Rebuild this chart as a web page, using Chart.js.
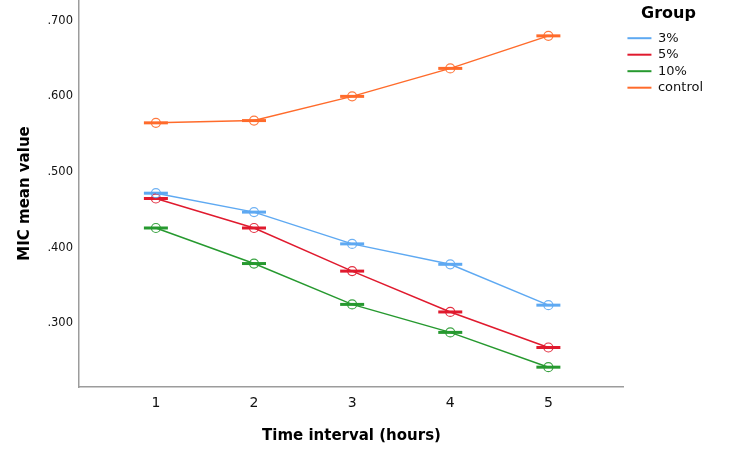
<!DOCTYPE html>
<html>
<head>
<meta charset="utf-8">
<script src="https://cdn.jsdelivr.net/npm/chart.js@4/dist/chart.umd.min.js"></script>
<style>
  html, body { margin: 0; padding: 0; background: #fff; }
  #wrap { width: 750px; height: 452px; position: relative; }
</style>
</head>
<body>
<div id="wrap"><canvas id="c"></canvas></div>
<script>
// ---- data ----
const timePoints = [1, 2, 3, 4, 5];
const groupNames = ['3%', '5%', '10%', 'control'];
const pct3    = [0.472, 0.447, 0.405, 0.378, 0.324];
const pct5    = [0.465, 0.426, 0.369, 0.315, 0.268];
const pct10   = [0.426, 0.379, 0.325, 0.288, 0.242];
const control = [0.565, 0.568, 0.600, 0.637, 0.680];
const yTickValues = [0.3, 0.4, 0.5, 0.6, 0.7];
const xTickValues = [1, 2, 3, 4, 5];

const seriesValues = [pct3, pct5, pct10, control];
const lineColors  = ['#5ea9f2', '#e01a2e', '#26992f', '#ff6b2b'];
const circleColors = ['rgba(94,169,242,0.9)', 'rgba(224,26,46,0.9)', 'rgba(38,153,47,0.9)', 'rgba(255,107,43,0.9)'];

const toXY = vals => vals.map((v, i) => ({ x: timePoints[i], y: v }));

const lineSets = seriesValues.map((vals, k) => ({
  label: groupNames[k],
  data: toXY(vals),
  borderColor: lineColors[k],
  backgroundColor: lineColors[k],
  borderWidth: 1.5,
  showLine: true,
  pointStyle: 'circle',
  pointRadius: 4.5,
  pointBorderWidth: 1.2,
  pointBorderColor: circleColors[k],
  pointBackgroundColor: 'rgba(0,0,0,0)',
  order: 2
}));
const barSets = seriesValues.map((vals, k) => ({
  label: groupNames[k] + ' mean',
  data: toXY(vals),
  showLine: false,
  pointStyle: 'line',
  pointRadius: 12,
  pointBorderWidth: 3,
  pointBorderColor: lineColors[k],
  borderColor: lineColors[k],
  order: 3
}));

const font = 'DejaVu Sans';

new Chart(document.getElementById('c'), {
  type: 'scatter',
  data: { datasets: lineSets.concat(barSets) },
  options: {
    responsive: true,
    maintainAspectRatio: false,
    animation: false,
    layout: { autoPadding: false, padding: { left: 0, top: 0, bottom: 0, right: 37 } },
    plugins: {
      tooltip: { enabled: false },
      legend: {
        position: 'right',
        align: 'start',
        title: {
          display: true,
          text: 'Group',
          color: '#000',
          font: { family: font, size: 16, weight: 'bold' },
          padding: { top: 6, bottom: 3 }
        },
        labels: {
          font: { family: font, size: 13 },
          color: '#111',
          boxWidth: 24,
          boxHeight: 2,
          padding: 3.5,
          filter: item => item.datasetIndex < 4,
          generateLabels: chart => {
            const items = Chart.defaults.plugins.legend.labels.generateLabels(chart);
            items.forEach(it => {
              const c = lineColors[it.datasetIndex % 4];
              it.fillStyle = c; it.strokeStyle = c; it.lineWidth = 0;
            });
            return items;
          }
        }
      }
    },
    scales: {
      x: {
        type: 'linear',
        min: 0.2163,
        max: 5.770,
        grid: { display: false, drawTicks: false },
        border: { display: true, color: '#9c9c9c', width: 1.5 },
        afterBuildTicks: s => { s.ticks = xTickValues.map(v => ({ value: v })); },
        afterFit: s => { s.height = 65; s.paddingLeft = 0; s.paddingRight = 0; },
        ticks: {
          padding: 8,
          color: '#111',
          font: { family: font, size: 14 },
          callback: v => String(v)
        },
        title: {
          display: true,
          text: 'Time interval (hours)',
          color: '#000',
          font: { family: font, size: 15, weight: 'bold' },
          padding: { top: 4, bottom: 7 }
        }
      },
      y: {
        type: 'linear',
        min: 0.2158,
        max: 0.7274,
        grid: { display: false, drawTicks: false },
        border: { display: true, color: '#9c9c9c', width: 1.5 },
        afterBuildTicks: s => { s.ticks = yTickValues.map(v => ({ value: v })); },
        afterFit: s => { s.width = 79; s.paddingTop = 0; s.paddingBottom = 0; },
        ticks: {
          padding: 6,
          color: '#111',
          font: { family: font, size: 11.5 },
          callback: v => v.toFixed(3).replace(/^0/, '')
        },
        title: {
          display: true,
          text: 'MIC mean value',
          color: '#000',
          font: { family: font, size: 15, weight: 'bold' },
          padding: { top: 16, bottom: 4 }
        }
      }
    }
  }
});
</script>
</body>
</html>
